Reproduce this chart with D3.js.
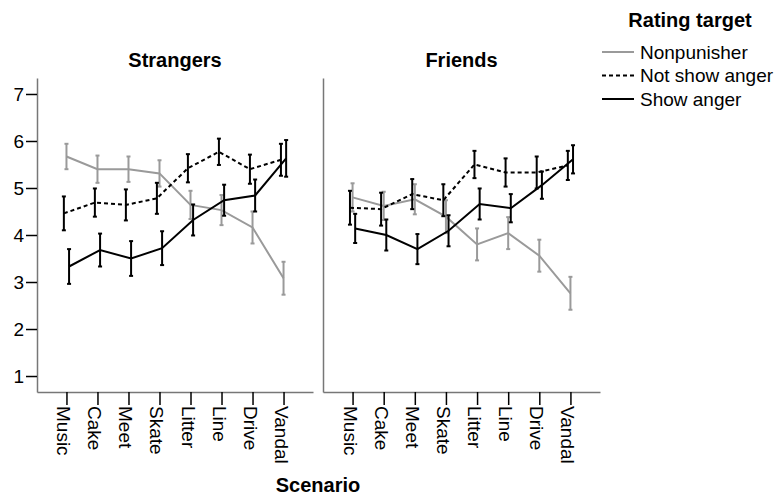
<!DOCTYPE html>
<html>
<head>
<meta charset="utf-8">
<script src="https://cdn.jsdelivr.net/npm/d3@7"></script>
<style>
  body { margin: 0; background: #fff; }
  svg { font-family: "Liberation Sans", Arial, sans-serif; }
</style>
</head>
<body>
<svg id="chart"></svg>
<script>
const scenarios = ['Music', 'Cake', 'Meet', 'Skate', 'Litter', 'Line', 'Drive', 'Vandal'];
const panels = ['Strangers', 'Friends'];
const targets = ['Nonpunisher', 'Not show anger', 'Show anger'];
const yTicks = [1, 2, 3, 4, 5, 6, 7];

// means, per panel
const strangersNonpunisher = [5.67, 5.40, 5.40, 5.31, 4.64, 4.53, 4.16, 3.08];
const strangersNotShow     = [4.46, 4.69, 4.64, 4.78, 5.42, 5.77, 5.40, 5.60];
const strangersShow        = [3.33, 3.68, 3.50, 3.72, 4.32, 4.74, 4.84, 5.63];
const friendsNonpunisher   = [4.80, 4.62, 4.76, 4.39, 3.80, 4.04, 3.56, 2.76];
const friendsNotShow       = [4.58, 4.55, 4.87, 4.74, 5.50, 5.33, 5.33, 5.48];
const friendsShow          = [4.14, 4.00, 3.70, 4.09, 4.66, 4.57, 5.06, 5.61];

// error bar half-widths
const strangersNonpunisherErr = [0.27, 0.29, 0.27, 0.28, 0.30, 0.32, 0.34, 0.35];
const strangersNotShowErr     = [0.36, 0.30, 0.33, 0.33, 0.30, 0.28, 0.31, 0.34];
const strangersShowErr        = [0.37, 0.35, 0.37, 0.36, 0.33, 0.33, 0.34, 0.39];
const friendsNonpunisherErr   = [0.30, 0.30, 0.32, 0.35, 0.34, 0.34, 0.34, 0.35];
const friendsNotShowErr       = [0.36, 0.35, 0.32, 0.34, 0.29, 0.30, 0.34, 0.31];
const friendsShowErr          = [0.31, 0.33, 0.32, 0.33, 0.33, 0.30, 0.29, 0.30];

const panelData = {
  Strangers: [
    {means: strangersNonpunisher, errs: strangersNonpunisherErr},
    {means: strangersNotShow, errs: strangersNotShowErr},
    {means: strangersShow, errs: strangersShowErr}
  ],
  Friends: [
    {means: friendsNonpunisher, errs: friendsNonpunisherErr},
    {means: friendsNotShow, errs: friendsNotShowErr},
    {means: friendsShow, errs: friendsShowErr}
  ]
};

const styles = {
  'Nonpunisher':    {color: '#9a9a9a', dash: null, dodge: 0},
  'Not show anger': {color: '#000', dash: '4,3', dodge: -2.6},
  'Show anger':     {color: '#000', dash: null, dodge: 2.6}
};

const W = 778, H = 498;
const plotTop = 78, plotBottom = 392;
const panelRanges = [[37, 313], [323, 600]];
const fs = 19, fsBold = 20;

const svg = d3.select('#chart').attr('width', W).attr('height', H);

const y = d3.scaleLinear().domain([0.66, 7.34]).range([plotBottom, plotTop]);

panels.forEach((p, pi) => {
  const x = d3.scalePoint().domain(scenarios).range(panelRanges[pi]).padding(0.95);
  const g = svg.append('g');

  // title
  g.append('text')
    .attr('x', (panelRanges[pi][0] + panelRanges[pi][1]) / 2)
    .attr('y', 67)
    .attr('text-anchor', 'middle')
    .style('font-weight', 'bold')
    .style('font-size', fsBold + 'px')
    .text(p);

  // y axis
  const yAxis = d3.axisLeft(y).tickValues(yTicks).tickFormat(d3.format('d'))
    .tickSize(11).tickSizeOuter(0).tickPadding(2);
  const ya = g.append('g').attr('transform', `translate(${panelRanges[pi][0]},0)`).call(yAxis);
  ya.select('.domain').attr('stroke', '#777').attr('stroke-width', 1.5);
  ya.selectAll('.tick line').attr('stroke', '#000').attr('stroke-width', 1.5);
  ya.selectAll('.tick text').style('font-size', fs + 'px').attr('fill', '#000');
  if (pi > 0) ya.selectAll('.tick').remove();

  // x axis
  const xAxis = d3.axisBottom(x).tickSize(13).tickSizeOuter(0);
  const xa = g.append('g').attr('transform', `translate(0,${plotBottom})`).call(xAxis);
  xa.select('.domain').attr('stroke', '#777').attr('stroke-width', 1.5);
  xa.selectAll('.tick line').attr('stroke', '#000').attr('stroke-width', 1.5);
  xa.selectAll('.tick text')
    .style('font-size', fs + 'px')
    .attr('fill', '#000')
    .attr('text-anchor', 'start')
    .attr('transform', 'rotate(90)')
    .attr('x', 14)
    .attr('y', 0)
    .attr('dy', '0.5em');

  // series
  targets.forEach((t, ti) => {
    const s = panelData[p][ti];
    const st = styles[t];
    const pts = scenarios.map((c, i) => ({c, m: s.means[i], e: s.errs[i]}));
    const px = d => x(d.c) + st.dodge;

    g.append('path')
      .datum(pts)
      .attr('fill', 'none')
      .attr('stroke', st.color)
      .attr('stroke-width', 2)
      .attr('stroke-dasharray', st.dash)
      .attr('d', d3.line().x(px).y(d => y(d.m)));

    const eb = g.append('g').attr('stroke', st.color).attr('stroke-width', 2);
    eb.selectAll('line.v').data(pts).join('line').attr('class', 'v')
      .attr('x1', px).attr('x2', px)
      .attr('y1', d => y(d.m - d.e)).attr('y2', d => y(d.m + d.e));
    eb.selectAll('line.capt').data(pts).join('line').attr('class', 'capt')
      .attr('x1', d => px(d) - 2).attr('x2', d => px(d) + 2)
      .attr('y1', d => y(d.m + d.e)).attr('y2', d => y(d.m + d.e));
    eb.selectAll('line.capb').data(pts).join('line').attr('class', 'capb')
      .attr('x1', d => px(d) - 2).attr('x2', d => px(d) + 2)
      .attr('y1', d => y(d.m - d.e)).attr('y2', d => y(d.m - d.e));
  });
});

// x axis title
svg.append('text')
  .attr('x', 318)
  .attr('y', 492)
  .attr('text-anchor', 'middle')
  .style('font-weight', 'bold')
  .style('font-size', fsBold + 'px')
  .text('Scenario');

// legend
const lg = svg.append('g');
lg.append('text')
  .attr('x', 690).attr('y', 27)
  .attr('text-anchor', 'middle')
  .style('font-weight', 'bold')
  .style('font-size', fsBold + 'px')
  .text('Rating target');
targets.forEach((t, i) => {
  const st = styles[t];
  const ly = 52 + i * 23.5;
  lg.append('line')
    .attr('x1', 602).attr('x2', 634).attr('y1', ly).attr('y2', ly)
    .attr('stroke', st.color).attr('stroke-width', 2)
    .attr('stroke-dasharray', st.dash);
  lg.append('text')
    .attr('x', 640).attr('y', ly).attr('dy', '0.35em')
    .style('font-size', fs + 'px')
    .text(t);
});
</script>
</body>
</html>
